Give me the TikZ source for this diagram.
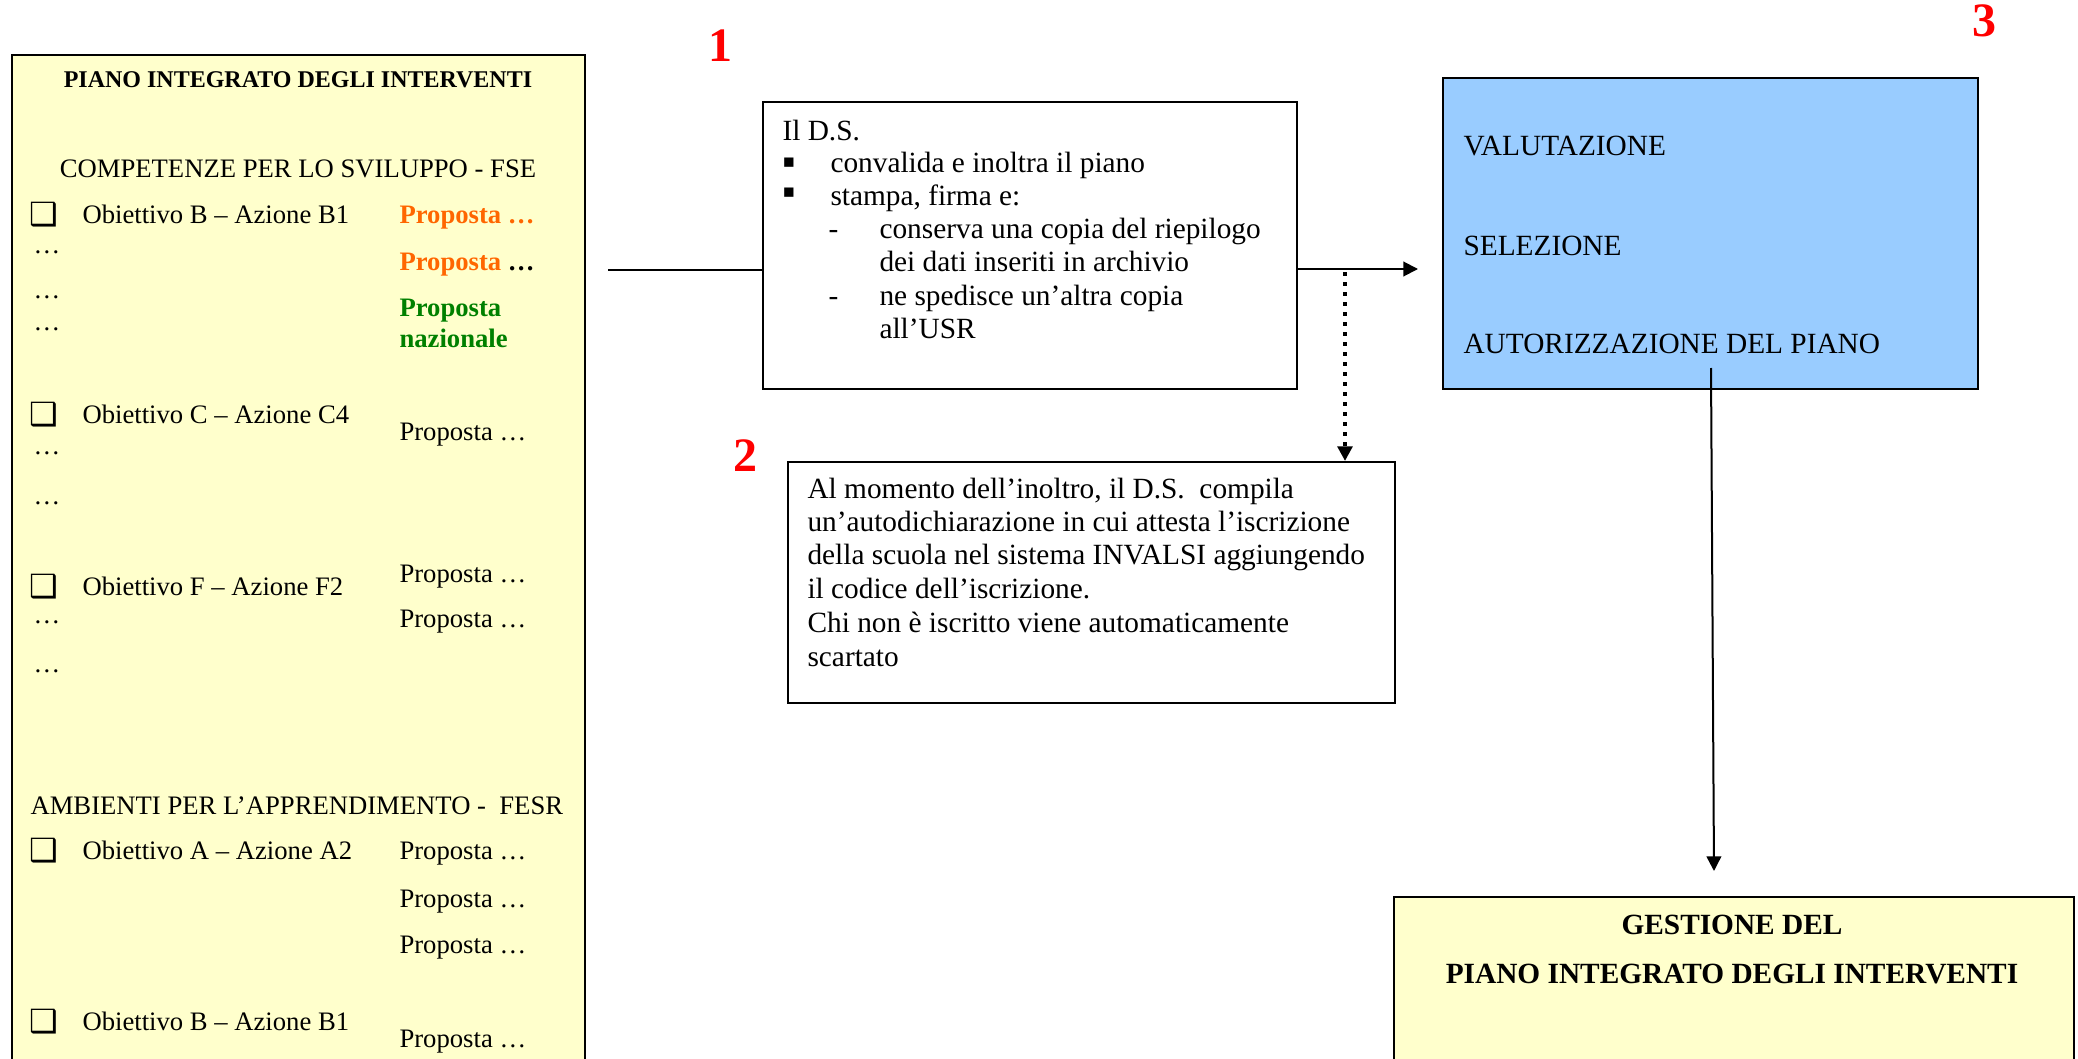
\documentclass[tikz,border=0pt]{standalone}
\usepackage{fontspec}
\setmainfont{Liberation Serif}
\newfontfamily\djv{DejaVu Sans}
\usetikzlibrary{arrows.meta}
\definecolor{pyellow}{HTML}{FFFFCC}
\definecolor{pblue}{HTML}{99CCFF}
\definecolor{porange}{HTML}{FF6600}
\definecolor{pgreen}{HTML}{008000}
\definecolor{pred}{HTML}{FF0000}
\begin{document}
\begin{tikzpicture}[x=0.375pt,y=-0.375pt,
  box/.style={draw=black, line width=0.75pt, inner sep=0pt, anchor=north west},
  tten/.style={inner sep=0pt, anchor=base west, font=\fontsize{10}{12}\selectfont},
  televen/.style={inner sep=0pt, anchor=base west, font=\fontsize{11}{12.65}\selectfont},
  ttitle/.style={inner sep=0pt, anchor=base, font=\fontsize{9}{11}\selectfont\bfseries},
  tbig/.style={inner sep=0pt, anchor=base, font=\fontsize{11}{12.65}\selectfont\bfseries},
  num/.style={inner sep=0pt, anchor=base, font=\fontsize{18}{20}\selectfont\bfseries, text=pred},
  chk/.style={inner sep=0pt, anchor=center, font=\djv\fontsize{12}{13}\selectfont},
  sq/.style={inner sep=0pt, anchor=center, font=\djv\fontsize{7}{8}\selectfont},
  conn/.style={line width=0.75pt},
  dotline/.style={line width=1.4pt, dash pattern=on 1.4pt off 2.35pt},
  tip/.style={-{Triangle[length=5.5pt,width=5.5pt]}},
]
\useasboundingbox (0,0) rectangle (2078,1059);

% boxes
\node[box, fill=pyellow, minimum width=214.875pt, minimum height=384pt] (L) at (11,54) {};
\node[box, fill=white, minimum width=200.25pt, minimum height=107.625pt] (B1) at (762,101) {};
\node[box, fill=white, minimum width=227.625pt, minimum height=90.375pt] (B2) at (787,461) {};
\node[box, fill=pblue, minimum width=200.625pt, minimum height=116.625pt] (B3) at (1442,77) {};
\node[box, fill=pyellow, minimum width=255pt, minimum height=70pt] (B4) at (1393,896) {};

% left box
\node[ttitle] (Ltitle) at (298,88) {PIANO INTEGRATO DEGLI INTERVENTI};
\node[tten, anchor=base] (Lfse) at (298,178) {COMPETENZE PER LO SVILUPPO - FSE};
\node[chk] (k1) at (44,215) {❑};
\node[tten] (o1) at (82,223) {Obiettivo B – Azione B1};
\node[tten] (p1) at (399,223) {\color{porange}\bfseries Proposta …};
\node[tten] (d1) at (33,253) {…};
\node[tten] (p2) at (399,270) {{\color{porange}\bfseries Proposta} \bfseries …};
\node[tten] (d2) at (33,298) {…};
\node[tten] (d3) at (33,330) {…};
\node[tten] (p3) at (399,317) {\color{pgreen}\bfseries Proposta};
\node[tten] (p3b) at (399,347) {\color{pgreen}\bfseries nazionale};
\node[chk] (k2) at (44,415) {❑};
\node[tten] (o2) at (82,423) {Obiettivo C – Azione C4};
\node[tten] (p4) at (399,440) {Proposta …};
\node[tten] (d4) at (33,454) {…};
\node[tten] (d5) at (33,504) {…};
\node[tten] (p5) at (399,582) {Proposta …};
\node[chk] (k3) at (44,587) {❑};
\node[tten] (o3) at (82,595) {Obiettivo F – Azione F2};
\node[tten] (p6) at (399,627) {Proposta …};
\node[tten] (d6) at (33,623) {…};
\node[tten] (d7) at (33,672) {…};
\node[tten] (Lfesr) at (30,814) {AMBIENTI PER L’APPRENDIMENTO -\ \ FESR};
\node[chk] (k4) at (44,851) {❑};
\node[tten] (o4) at (82,859) {Obiettivo A – Azione A2};
\node[tten] (p7) at (399,859) {Proposta …};
\node[tten] (p8) at (399,907) {Proposta …};
\node[tten] (p9) at (399,953) {Proposta …};
\node[chk] (k5) at (44,1022) {❑};
\node[tten] (o5) at (82,1030) {Obiettivo B – Azione B1};
\node[tten] (p10) at (399,1047) {Proposta …};

% box 1
\node[televen] (a1) at (782,140) {Il D.S.};
\node[sq] (s1) at (789,163) {▪};
\node[televen] (a2) at (830,173) {convalida e inoltra il piano};
\node[sq] (s2) at (789,193) {▪};
\node[televen] (a3) at (830,205) {stampa, firma e:};
\node[televen] (h1) at (828,238) {-};
\node[televen] (a4) at (879,238) {conserva una copia del riepilogo};
\node[televen] (a5) at (879,271) {dei dati inseriti in archivio};
\node[televen] (h2) at (828,305) {-};
\node[televen] (a6) at (879,305) {ne spedisce un’altra copia};
\node[televen] (a7) at (879,338) {all’USR};

% box 2
\node[televen] (c1) at (807,498) {Al momento dell’inoltro, il D.S.\ \ compila};
\node[televen] (c2) at (807,531) {un’autodichiarazione in cui attesta l’iscrizione};
\node[televen] (c3) at (807,564) {della scuola nel sistema INVALSI aggiungendo};
\node[televen] (c4) at (807,598) {il codice dell’iscrizione.};
\node[televen] (c5) at (807,632) {Chi non è iscritto viene automaticamente};
\node[televen] (c6) at (807,666) {scartato};

% box 3
\node[televen] (v1) at (1463,156) {VALUTAZIONE};
\node[televen] (v2) at (1463,255) {SELEZIONE};
\node[televen] (v3) at (1463,353) {AUTORIZZAZIONE DEL PIANO};

% box 4
\node[tbig] (g1) at (1732,934) {GESTIONE DEL};
\node[tbig] (g2) at (1732,983) {PIANO INTEGRATO DEGLI INTERVENTI};

% numbers
\node[num] (n1) at (720,62) {1};
\node[num] (n2) at (745,471) {2};
\node[num] (n3) at (1984,37) {3};

% connectors
\coordinate (c0) at (608,270);
\draw[conn] (c0) -- (c0 -| B1.west);
\coordinate (ca) at (1418,269);
\draw[conn, tip] (B1.east |- ca) -- (ca);
\coordinate (dz) at (1345,272);
\draw[dotline, tip] (dz) -- (dz |- B2.north);
\coordinate (e0) at (1711,368);
\coordinate (e1) at (1714,871);
\draw[conn, tip] (e0) -- (e1);
\end{tikzpicture}
\end{document}
